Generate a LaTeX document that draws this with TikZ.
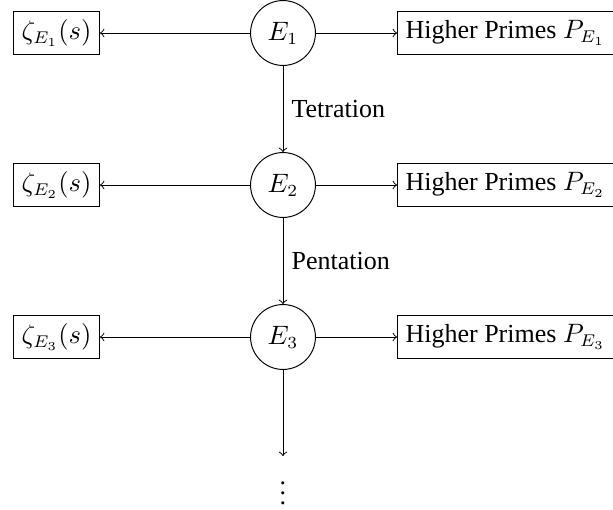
\documentclass[tikz,border=0pt]{standalone}
\usepackage{fontspec}
\setmainfont{Liberation Serif}
\begin{document}
\begin{tikzpicture}[x=0.4115pt,y=-0.4115pt,
  every node/.style={font=\fontsize{10.7}{12.8}\selectfont},
  circ/.style={draw,circle,minimum size=26.7pt,inner sep=0pt},
  box/.style={draw,rectangle,minimum height=17.7pt,inner sep=3.33pt},
  conn/.style={->}]
\useasboundingbox (0,0) rectangle (613,510);
\node[circ] (e1) at (283,33) {$E_1$};
\node[circ] (e2) at (283,185) {$E_2$};
\node[circ] (e3) at (283,337) {$E_3$};
\node[box,anchor=east] (z1) at (100,33) {$\zeta_{E_1}(s)$};
\node[box,anchor=east] (z2) at (100,185) {$\zeta_{E_2}(s)$};
\node[box,anchor=east] (z3) at (100,337) {$\zeta_{E_3}(s)$};
\node[box,anchor=west] (p1) at (397,33) {Higher Primes $P_{E_1}$};
\node[box,anchor=west] (p2) at (397,185) {Higher Primes $P_{E_2}$};
\node[box,anchor=west] (p3) at (397,337) {Higher Primes $P_{E_3}$};
\coordinate (end) at (283,456);
\node (dots) at (283,486) {$\vdots$};
\foreach \i in {1,2,3}{
  \draw[conn] (e\i) -- (z\i);
  \draw[conn] (e\i) -- (p\i);
}
\draw[conn] (e1) -- node[right] {Tetration} (e2);
\draw[conn] (e2) -- node[right] {Pentation} (e3);
\draw[conn] (e3) -- (end);
\end{tikzpicture}
\end{document}
